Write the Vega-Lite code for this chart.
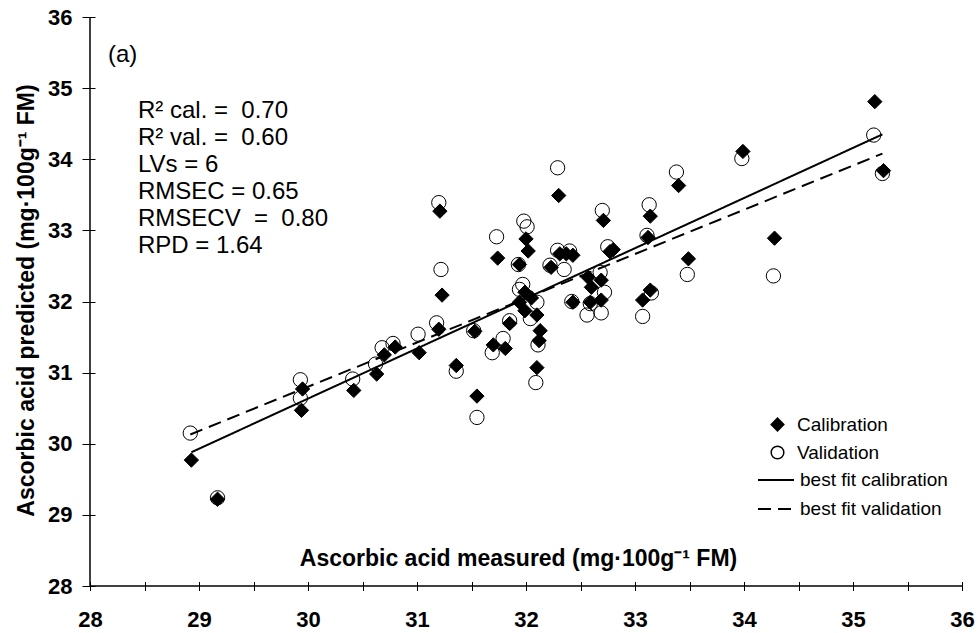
{
  "$schema": "https://vega.github.io/schema/vega-lite/v6.json",
  "width": 872,
  "height": 569,
  "autosize": {"type": "none"},
  "padding": {"left": 90, "top": 17, "right": 16, "bottom": 47},
  "background": "white",
  "config": {
    "view": {"stroke": null},
    "font": "Liberation Sans",
    "axis": {
      "grid": false,
      "domain": false,
      "tickColor": "black",
      "tickWidth": 1,
      "labelFont": "Liberation Sans",
      "labelFontSize": 22,
      "labelFontWeight": "bold",
      "labelColor": "black",
      "labelFlush": false,
      "labelOverlap": false,
      "titleFont": "Liberation Sans",
      "titleFontSize": 23,
      "titleFontWeight": "bold",
      "titleColor": "black"
    },
    "legend": {
      "padding": 0,
      "labelFont": "Liberation Sans",
      "labelFontSize": 19,
      "labelColor": "black",
      "rowPadding": 8,
      "title": null
    }
  },
  "datasets": {
    "points": [
      {"x": 28.92, "y": 30.15, "set": "Validation"},
      {"x": 29.17, "y": 29.24, "set": "Validation"},
      {"x": 29.93, "y": 30.64, "set": "Validation"},
      {"x": 29.93, "y": 30.90, "set": "Validation"},
      {"x": 30.41, "y": 30.91, "set": "Validation"},
      {"x": 30.62, "y": 31.12, "set": "Validation"},
      {"x": 30.68, "y": 31.35, "set": "Validation"},
      {"x": 30.78, "y": 31.41, "set": "Validation"},
      {"x": 31.01, "y": 31.54, "set": "Validation"},
      {"x": 31.20, "y": 33.39, "set": "Validation"},
      {"x": 31.22, "y": 32.45, "set": "Validation"},
      {"x": 31.18, "y": 31.70, "set": "Validation"},
      {"x": 31.36, "y": 31.02, "set": "Validation"},
      {"x": 31.55, "y": 30.37, "set": "Validation"},
      {"x": 31.52, "y": 31.59, "set": "Validation"},
      {"x": 31.73, "y": 32.91, "set": "Validation"},
      {"x": 31.69, "y": 31.28, "set": "Validation"},
      {"x": 31.79, "y": 31.48, "set": "Validation"},
      {"x": 31.85, "y": 31.73, "set": "Validation"},
      {"x": 31.93, "y": 32.52, "set": "Validation"},
      {"x": 31.98, "y": 33.13, "set": "Validation"},
      {"x": 32.01, "y": 33.05, "set": "Validation"},
      {"x": 31.97, "y": 32.24, "set": "Validation"},
      {"x": 31.94, "y": 32.17, "set": "Validation"},
      {"x": 32.10, "y": 31.99, "set": "Validation"},
      {"x": 32.04, "y": 31.76, "set": "Validation"},
      {"x": 32.11, "y": 31.39, "set": "Validation"},
      {"x": 32.09, "y": 30.86, "set": "Validation"},
      {"x": 32.29, "y": 33.88, "set": "Validation"},
      {"x": 32.29, "y": 32.72, "set": "Validation"},
      {"x": 32.40, "y": 32.71, "set": "Validation"},
      {"x": 32.22, "y": 32.51, "set": "Validation"},
      {"x": 32.35, "y": 32.45, "set": "Validation"},
      {"x": 32.42, "y": 32.00, "set": "Validation"},
      {"x": 32.70, "y": 33.28, "set": "Validation"},
      {"x": 32.75, "y": 32.77, "set": "Validation"},
      {"x": 33.13, "y": 33.36, "set": "Validation"},
      {"x": 33.11, "y": 32.93, "set": "Validation"},
      {"x": 33.38, "y": 33.82, "set": "Validation"},
      {"x": 33.98, "y": 34.01, "set": "Validation"},
      {"x": 33.48, "y": 32.38, "set": "Validation"},
      {"x": 32.68, "y": 32.41, "set": "Validation"},
      {"x": 32.72, "y": 32.13, "set": "Validation"},
      {"x": 32.56, "y": 31.81, "set": "Validation"},
      {"x": 32.69, "y": 31.84, "set": "Validation"},
      {"x": 33.15, "y": 32.12, "set": "Validation"},
      {"x": 33.07, "y": 31.79, "set": "Validation"},
      {"x": 35.19, "y": 34.34, "set": "Validation"},
      {"x": 35.27, "y": 33.80, "set": "Validation"},
      {"x": 34.27, "y": 32.36, "set": "Validation"},
      {"x": 32.59, "y": 31.97, "set": "Validation"},
      {"x": 28.93, "y": 29.77, "set": "Calibration"},
      {"x": 29.17, "y": 29.22, "set": "Calibration"},
      {"x": 29.94, "y": 30.47, "set": "Calibration"},
      {"x": 29.95, "y": 30.77, "set": "Calibration"},
      {"x": 30.42, "y": 30.75, "set": "Calibration"},
      {"x": 30.63, "y": 30.98, "set": "Calibration"},
      {"x": 30.70, "y": 31.25, "set": "Calibration"},
      {"x": 30.80, "y": 31.36, "set": "Calibration"},
      {"x": 31.02, "y": 31.28, "set": "Calibration"},
      {"x": 31.21, "y": 33.27, "set": "Calibration"},
      {"x": 31.23, "y": 32.09, "set": "Calibration"},
      {"x": 31.20, "y": 31.61, "set": "Calibration"},
      {"x": 31.36, "y": 31.10, "set": "Calibration"},
      {"x": 31.55, "y": 30.67, "set": "Calibration"},
      {"x": 31.53, "y": 31.58, "set": "Calibration"},
      {"x": 31.74, "y": 32.61, "set": "Calibration"},
      {"x": 31.70, "y": 31.39, "set": "Calibration"},
      {"x": 31.81, "y": 31.34, "set": "Calibration"},
      {"x": 31.85, "y": 31.69, "set": "Calibration"},
      {"x": 31.94, "y": 32.52, "set": "Calibration"},
      {"x": 32.00, "y": 32.88, "set": "Calibration"},
      {"x": 32.02, "y": 32.71, "set": "Calibration"},
      {"x": 31.99, "y": 32.13, "set": "Calibration"},
      {"x": 31.94, "y": 31.99, "set": "Calibration"},
      {"x": 32.05, "y": 32.05, "set": "Calibration"},
      {"x": 31.99, "y": 31.87, "set": "Calibration"},
      {"x": 32.10, "y": 31.81, "set": "Calibration"},
      {"x": 32.13, "y": 31.59, "set": "Calibration"},
      {"x": 32.12, "y": 31.45, "set": "Calibration"},
      {"x": 32.10, "y": 31.07, "set": "Calibration"},
      {"x": 32.30, "y": 33.49, "set": "Calibration"},
      {"x": 32.31, "y": 32.67, "set": "Calibration"},
      {"x": 32.37, "y": 32.67, "set": "Calibration"},
      {"x": 32.43, "y": 32.65, "set": "Calibration"},
      {"x": 32.23, "y": 32.48, "set": "Calibration"},
      {"x": 32.43, "y": 31.99, "set": "Calibration"},
      {"x": 32.71, "y": 33.14, "set": "Calibration"},
      {"x": 32.80, "y": 32.73, "set": "Calibration"},
      {"x": 32.77, "y": 32.70, "set": "Calibration"},
      {"x": 33.14, "y": 33.20, "set": "Calibration"},
      {"x": 33.12, "y": 32.90, "set": "Calibration"},
      {"x": 33.40, "y": 33.63, "set": "Calibration"},
      {"x": 33.99, "y": 34.11, "set": "Calibration"},
      {"x": 33.49, "y": 32.60, "set": "Calibration"},
      {"x": 32.57, "y": 32.34, "set": "Calibration"},
      {"x": 32.60, "y": 32.20, "set": "Calibration"},
      {"x": 32.69, "y": 32.30, "set": "Calibration"},
      {"x": 32.59, "y": 31.99, "set": "Calibration"},
      {"x": 32.69, "y": 32.02, "set": "Calibration"},
      {"x": 33.07, "y": 32.02, "set": "Calibration"},
      {"x": 33.14, "y": 32.16, "set": "Calibration"},
      {"x": 35.20, "y": 34.81, "set": "Calibration"},
      {"x": 35.28, "y": 33.84, "set": "Calibration"},
      {"x": 34.28, "y": 32.89, "set": "Calibration"}
    ],
    "fits": [
      {"x": 28.93, "y": 29.88, "fit": "best fit calibration"},
      {"x": 35.27, "y": 34.35, "fit": "best fit calibration"},
      {"x": 28.92, "y": 30.13, "fit": "best fit validation"},
      {"x": 35.27, "y": 34.08, "fit": "best fit validation"}
    ]
  },
  "layer": [
    {
      "data": {"name": "points"},
      "mark": {"type": "point", "size": 205, "stroke": "black", "strokeWidth": 1, "opacity": 1},
      "encoding": {
        "x": {
          "field": "x", "type": "quantitative",
          "scale": {"domain": [28, 36], "nice": false, "zero": false},
          "title": "Ascorbic acid measured (mg·100g⁻¹ FM)",
          "axis": {
            "values": [28, 28.5, 29, 29.5, 30, 30.5, 31, 31.5, 32, 32.5, 33, 33.5, 34, 34.5, 35, 35.5, 36],
            "format": ".0f",
            "labelExpr": "datum.value % 1 === 0 ? datum.label : ''",
            "offset": -4.5, "tickSize": 9, "labelPadding": 19,
            "titleX": 428, "titleY": -16.5, "titleBaseline": "alphabetic"
          }
        },
        "y": {
          "field": "y", "type": "quantitative",
          "scale": {"domain": [28, 36], "nice": false, "zero": false},
          "title": "Ascorbic acid predicted (mg·100g⁻¹ FM)",
          "axis": {
            "values": [28, 28.5, 29, 29.5, 30, 30.5, 31, 31.5, 32, 32.5, 33, 33.5, 34, 34.5, 35, 35.5, 36],
            "format": ".0f",
            "labelExpr": "datum.value % 1 === 0 ? datum.label : ''",
            "offset": -5, "tickSize": 13, "labelPadding": 10,
            "titleX": -62, "titleY": 283, "titleAngle": -90, "titleBaseline": "alphabetic", "titleAlign": "center"
          }
        },
        "shape": {
          "field": "set", "type": "nominal",
          "scale": {"domain": ["Calibration", "Validation"], "range": ["diamond", "circle"]},
          "legend": {"orient": "none", "legendX": 678, "legendY": 398, "symbolSize": 160, "labelOffset": 10,
            "encode": {"symbols": {"update": {"stroke": {"value": "black"}, "strokeWidth": {"value": 1}}}}}
        },
        "fill": {
          "field": "set", "type": "nominal",
          "scale": {"domain": ["Calibration", "Validation"], "range": ["black", "transparent"]},
          "legend": {"orient": "none", "legendX": 678, "legendY": 398, "symbolSize": 160, "labelOffset": 10,
            "encode": {"symbols": {"update": {"stroke": {"value": "black"}, "strokeWidth": {"value": 1}}}}}
        }
      }
    },
    {
      "data": {"name": "fits"},
      "mark": {"type": "line", "color": "black", "strokeWidth": 2},
      "encoding": {
        "x": {"field": "x", "type": "quantitative"},
        "y": {"field": "y", "type": "quantitative"},
        "strokeDash": {
          "field": "fit", "type": "nominal",
          "scale": {"domain": ["best fit calibration", "best fit validation"], "range": [[1, 0], [13, 7]]},
          "legend": {"orient": "none", "legendX": 667, "legendY": 444, "rowPadding": -1, "symbolType": "stroke", "symbolSize": 1296, "symbolStrokeWidth": 2, "symbolStrokeColor": "black", "labelOffset": 5}
        }
      }
    },
    {
      "data": {"values": [{}]},
      "mark": {"type": "rule", "color": "black", "strokeWidth": 1.5},
      "encoding": {"x": {"datum": 28, "type": "quantitative"}}
    },
    {
      "data": {"values": [{}]},
      "mark": {"type": "rule", "color": "black", "strokeWidth": 1.5},
      "encoding": {"y": {"datum": 28, "type": "quantitative"}}
    },
    {
      "data": {"values": [{}]},
      "mark": {"type": "text", "align": "left", "baseline": "middle", "fontSize": 24, "font": "Liberation Sans", "color": "black"},
      "encoding": {
        "x": {"datum": 28.165, "type": "quantitative"},
        "y": {"datum": 35.47, "type": "quantitative"},
        "text": {"value": "(a)"}
      }
    },
    {
      "data": {"values": [{}]},
      "mark": {"type": "text", "align": "left", "baseline": "alphabetic", "fontSize": 24, "lineHeight": 27, "font": "Liberation Sans", "color": "black"},
      "encoding": {
        "x": {"datum": 28.44, "type": "quantitative"},
        "y": {"datum": 34.578, "type": "quantitative"},
        "text": {"value": ["R² cal. =\u00a0\u00a00.70", "R² val. =\u00a0\u00a00.60", "LVs = 6", "RMSEC = 0.65", "RMSECV\u00a0\u00a0=\u00a0\u00a00.80", "RPD = 1.64"]}
      }
    }
  ]
}
